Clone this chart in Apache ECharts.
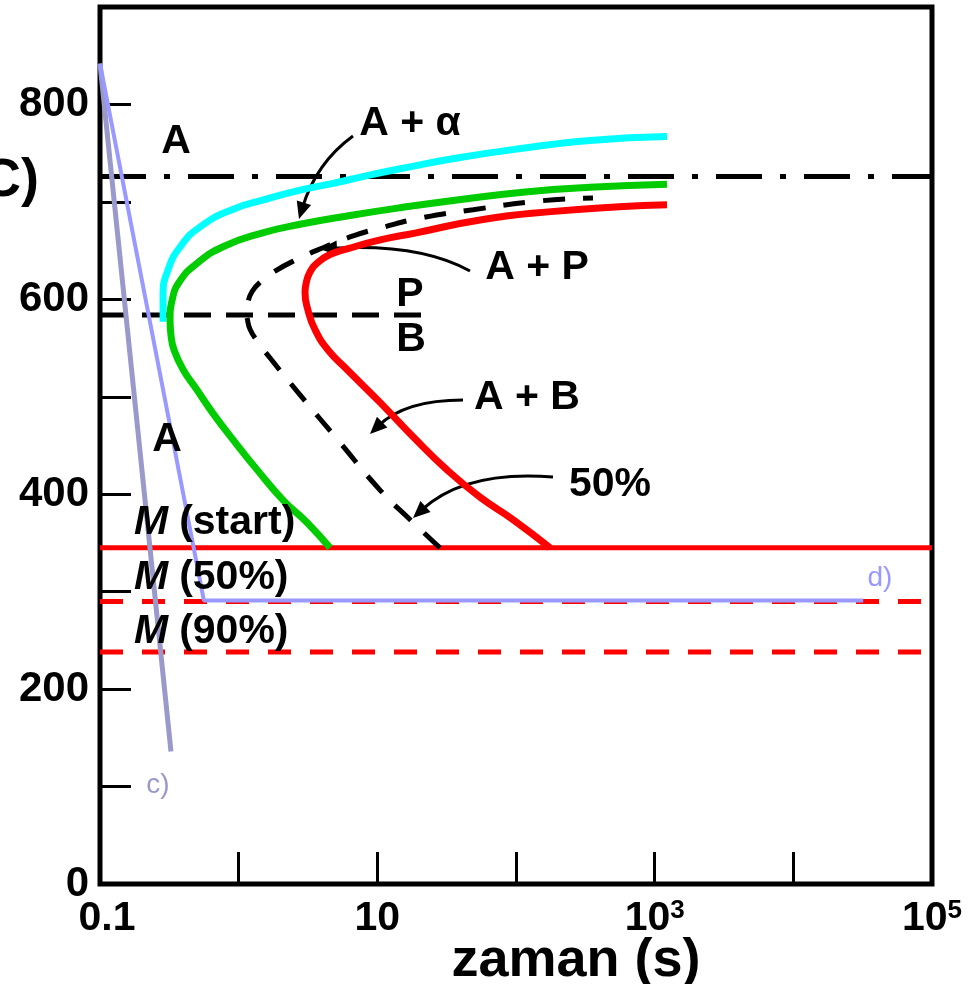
<!DOCTYPE html>
<html><head><meta charset="utf-8">
<script src="https://cdn.jsdelivr.net/npm/echarts@6/dist/echarts.min.js"></script>
<style>html,body{margin:0;padding:0;background:#fff}#c{width:975px;height:984px}</style>
</head><body><div id="c"></div>
<script>
const FONT = '"Liberation Sans", Arial, Helvetica, sans-serif';

// ---- data: time (s) and temperature (°C) ----
const cyanTime = [0.285, 0.285, 0.309, 0.384, 0.535, 0.895, 1.60, 2.77, 4.79, 8.42, 14.6, 37.5, 112, 342, 1227];
const cyanTemp = [577, 604, 630, 655, 675, 692, 703, 712, 719, 727, 734, 745, 755, 763, 767];

const greenTime = [4.56, 3.11, 2.09, 1.36, 0.910, 0.653, 0.501, 0.397, 0.342, 0.325, 0.320, 0.331, 0.378, 0.501, 0.771, 1.47, 2.77, 6.35, 14.6, 37.5, 112, 342, 1227];
const greenTemp = [345, 371, 394, 425, 456, 483, 507, 528, 548, 563, 579, 599, 619, 637, 654, 668, 677, 686, 694, 702, 710, 715, 718];

const redTime = [176, 95.1, 55.0, 31.8, 18.1, 10.5, 6.04, 4.41, 3.55, 3.16, 3.01, 3.06, 3.27, 3.73, 4.56, 6.14, 10.5, 18.7, 57.8, 179, 553, 1227];
const redTemp = [345, 374, 397, 425, 459, 494, 528, 548, 569, 589, 607, 616, 628, 638, 646, 652, 661, 668, 682, 690, 695, 697];

const halfTime = [28.3, 17.2, 10.5, 5.38, 2.77, 1.68, 1.38, 1.21, 1.15, 1.13, 1.15, 1.25, 1.47, 1.83, 2.63, 4.06, 6.35, 11.0, 21.4, 49.0, 149, 359];
const halfTemp = [345, 374, 404, 453, 502, 540, 556, 569, 581, 587, 594, 608, 619, 629, 641, 653, 664, 674, 684, 692, 701, 704];

const coolCTime = [0.1, 0.325];
const coolCTemp = [842, 136];
const coolDTime = [0.1, 0.561, 31900];
const coolDTemp = [842, 291, 291];

const A1Temp = 726;
const BsTemp = 584;
const BsEndTime = 21;
const MsTemp = 345;
const M50Temp = 290;
const M90Temp = 238;

const timeRange = [0.1, 1e5];
const tempRange = [0, 900];
const xLabelExponents = [-1, 1, 3, 5];
const yLabelValues = [0, 200, 400, 600, 800];

// ---- helpers ----
function pairs(t, T) { return t.map((v, i) => [v, T[i]]); }
function hline(temp, t0, t1) { return [[t0, temp], [t1, temp]]; }
function lineSeries(data, color, width, type, smooth, z) {
  return {
    type: 'line', data: data, symbol: 'none', showSymbol: false, smooth: smooth || false,
    silent: true, animation: false, z: z || 2,
    lineStyle: { color: color, width: width, type: type || 'solid', cap: 'butt' }
  };
}
function arrow(sx, sy, cx, cy, tx, ty) {
  const dx = tx - cx, dy = ty - cy, L = Math.hypot(dx, dy);
  const ux = dx / L, uy = dy / L, hl = 17, hw = 7.5;
  const bx = tx - ux * hl, by = ty - uy * hl;
  const ex = tx - ux * hl * 0.7, ey = ty - uy * hl * 0.7;
  return [
    { type: 'bezierCurve', silent: true, shape: { x1: sx, y1: sy, cpx1: cx, cpy1: cy, x2: ex, y2: ey },
      style: { stroke: '#000', lineWidth: 3, fill: null } },
    { type: 'polygon', silent: true, shape: { points: [[tx, ty], [bx - uy * hw, by + ux * hw], [bx + uy * hw, by - ux * hw]] },
      style: { fill: '#000' } }
  ];
}
function txt(s, x, y, opts) {
  opts = opts || {};
  return { type: 'text', x: x, y: y, silent: true, z: 50,
    style: Object.assign({ text: s, fill: '#000', align: 'center', verticalAlign: 'middle',
      font: 'bold 41px ' + FONT }, opts) };
}
function mLabel(s, x, y) {
  return { type: 'text', x: x, y: y, silent: true, z: 50,
    style: { text: '{i|M}{n|' + s + '}', align: 'left', verticalAlign: 'middle',
      rich: { i: { font: 'italic bold 41px ' + FONT, fill: '#000' },
              n: { font: 'bold 41px ' + FONT, fill: '#000', padding: [0, 0, 0, 11] } } } };
}

const chart = echarts.init(document.getElementById('c'), null, { renderer: 'canvas' });

const graphics = [].concat(
  [
    txt('A', 176, 142),
    txt('A + α', 410, 124),
    txt('A + P', 537, 268),
    txt('P', 410, 295),
    txt('B', 411, 340),
    txt('A + B', 527, 398),
    txt('50%', 610, 485),
    txt('A', 167, 440),
    mLabel('(start)', 134, 523),
    mLabel('(50%)', 134, 578),
    mLabel('(90%)', 134, 632),
    txt('c)', 158, 785, { font: '28px ' + FONT, fill: '#9999cc' }),
    txt('d)', 880, 578, { font: '28px ' + FONT, fill: '#9999ff' }),
    txt('(°C)', 39, 181, { font: 'bold 54px ' + FONT, align: 'right' })
  ],
  arrow(353, 136, 316, 163, 299, 219),
  arrow(470, 271, 420, 243, 320, 249),
  arrow(463, 400, 405, 400, 370, 434),
  arrow(553, 477, 465, 470, 413, 518)
);

const option = {
  backgroundColor: '#fff',
  animation: false,
  grid: { left: 100, right: 43, top: 7, bottom: 100, show: true, borderColor: '#000', borderWidth: 5,
          backgroundColor: 'transparent', containLabel: false, outerBoundsMode: 'none' },
  xAxis: {
    type: 'log', logBase: 10, min: timeRange[0], max: timeRange[1],
    name: 'zaman (s)', nameLocation: 'middle', nameGap: 50, nameMoveOverlap: false,
    nameTextStyle: { fontFamily: FONT, fontWeight: 'bold', fontSize: 54, color: '#000', padding: [0, 0, 0, 120] },
    axisLine: { show: false },
    splitLine: { show: false },
    axisTick: { show: true, inside: true, length: 32, lineStyle: { color: '#000', width: 3 } },
    axisLabel: {
      show: true, margin: 14, color: '#000', showMinLabel: true, showMaxLabel: true, hideOverlap: false,
      formatter: function (v) {
        const e = Math.round(Math.log10(v));
        if (xLabelExponents.indexOf(e) < 0) return '';
        if (e === -1) return '{p|0.1}';
        if (e === 1) return '{b|10}';
        return '{b|10}{s|' + e + '}';
      },
      rich: {
        b: { fontFamily: FONT, fontWeight: 'bold', fontSize: 41, color: '#000' },
        p: { fontFamily: FONT, fontWeight: 'bold', fontSize: 41, color: '#000', padding: [0, 0, 0, 14] },
        s: { fontFamily: FONT, fontWeight: 'bold', fontSize: 26, color: '#000', verticalAlign: 'top', padding: [0, 0, 6, 0] }
      }
    }
  },
  yAxis: {
    type: 'value', min: tempRange[0], max: tempRange[1], interval: 100,
    axisLine: { show: false },
    splitLine: { show: false },
    axisTick: { show: true, inside: true, length: 31, lineStyle: { color: '#000', width: 3 } },
    axisLabel: {
      show: true, margin: 11, color: '#000', fontFamily: FONT, fontWeight: 'bold', fontSize: 42,
      showMinLabel: true, hideOverlap: false,
      formatter: function (v) { return yLabelValues.indexOf(Math.round(v)) >= 0 ? String(Math.round(v)) : ''; }
    }
  },
  graphic: graphics,
  series: [
    lineSeries(hline(A1Temp, timeRange[0], timeRange[1]), '#000', 5, [46, 18, 6, 18], false, 2),
    lineSeries(hline(BsTemp, timeRange[0], BsEndTime), '#000', 5, [27, 15], false, 2),
    lineSeries(hline(MsTemp, timeRange[0], timeRange[1]), '#ff0000', 5, 'solid', false, 3),
    lineSeries(hline(M50Temp, timeRange[0], timeRange[1]), '#ff0000', 5, [23, 19], false, 3),
    lineSeries(hline(M90Temp, timeRange[0], timeRange[1]), '#ff0000', 5, [23, 19], false, 3),
    lineSeries(pairs(cyanTime, cyanTemp), '#00ffff', 7, 'solid', 0.5, 4),
    lineSeries(pairs(greenTime, greenTemp), '#00cc00', 7, 'solid', 0.5, 5),
    lineSeries(pairs(redTime, redTemp), '#ff0000', 7, 'solid', 0.5, 5),
    lineSeries(pairs(halfTime, halfTemp), '#000', 5, [22, 18], 0.5, 5),
    lineSeries(pairs(coolCTime, coolCTemp), '#9999cc', 5, 'solid', false, 6),
    lineSeries(pairs(coolDTime, coolDTemp), '#9999ff', 4, 'solid', false, 7)
  ]
};
chart.setOption(option);
</script></body></html>
